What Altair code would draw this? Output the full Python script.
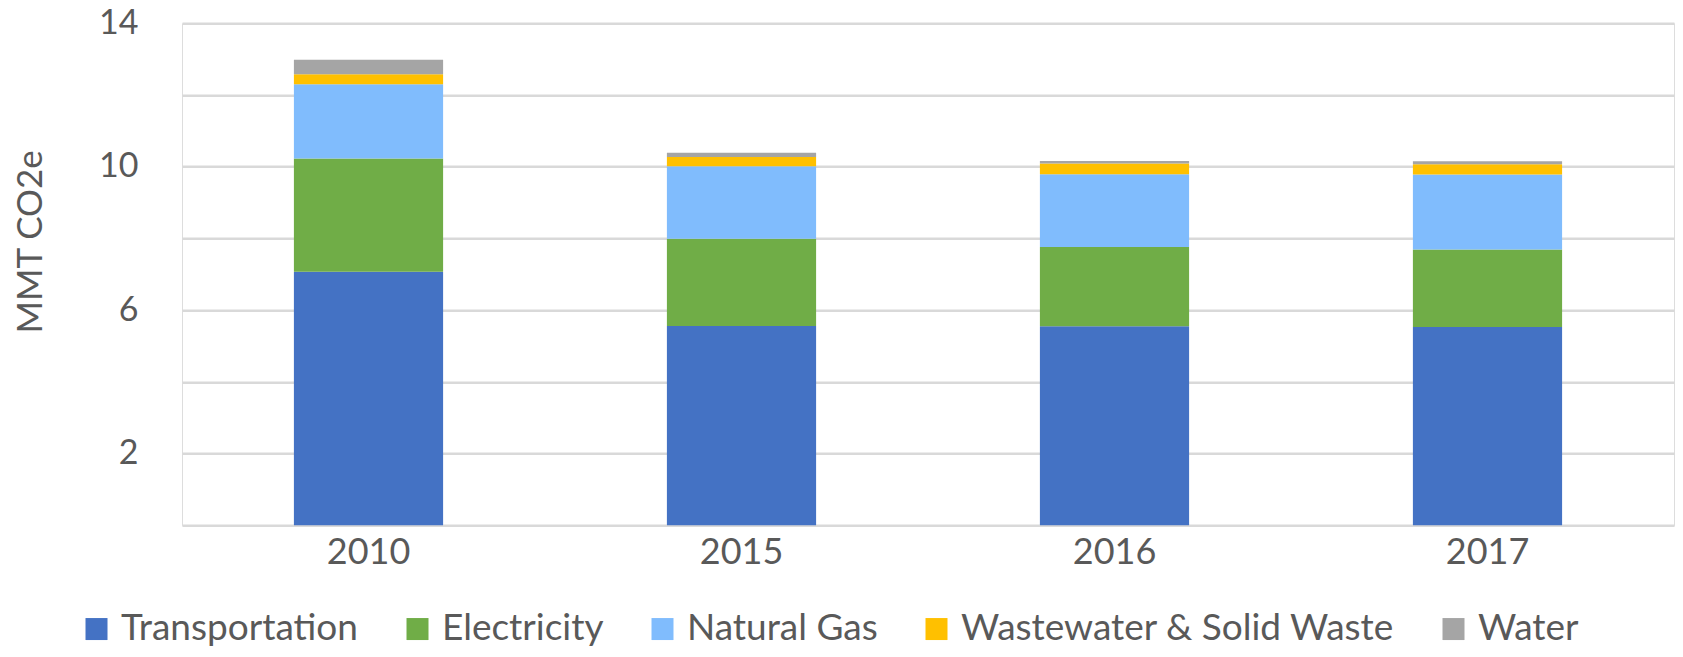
import altair as alt
import pandas as pd

years = ["2010", "2015", "2016", "2017"]
sectors = ["Transportation", "Electricity", "Natural Gas", "Wastewater & Solid Waste", "Water"]
colors = ["#4472C4", "#70AD47", "#80BCFD", "#FFC000", "#A5A5A5"]

transportation = [7.07, 5.56, 5.55, 5.53]
electricity = [3.16, 2.43, 2.21, 2.16]
natural_gas = [2.07, 2.02, 2.03, 2.09]
waste = [0.28, 0.26, 0.30, 0.29]
water = [0.40, 0.12, 0.07, 0.08]

series = [transportation, electricity, natural_gas, waste, water]
rows = []
for si, (name, vals) in enumerate(zip(sectors, series)):
    for y, v in zip(years, vals):
        rows.append({"Year": y, "Sector": name, "Value": v, "idx": si})
df = pd.DataFrame(rows)

FONT = "Lato"
GREY_TEXT = "#595959"
GRID = "#D9D9D9"

chart = alt.Chart(df).mark_bar().encode(
    x=alt.X("Year:N", sort=years,
            scale=alt.Scale(paddingInner=0.6, paddingOuter=0.3),
            axis=alt.Axis(title=None, labelAngle=0, domain=False, ticks=False,
                          labelFontSize=36, labelColor=GREY_TEXT, labelFont=FONT,
                          labelPadding=10)),
    y=alt.Y("Value:Q", stack="zero",
            scale=alt.Scale(domain=[0, 14], nice=False),
            axis=alt.Axis(title="MMT CO2e", values=[0, 2, 4, 6, 8, 10, 12, 14],
                          labelExpr="datum.value % 4 == 2 ? datum.label : ''",
                          domain=False, ticks=False, grid=True,
                          gridColor=GRID, gridWidth=2.5,
                          labelFontSize=34, labelColor=GREY_TEXT, labelFont=FONT,
                          labelPadding=44,
                          titleFontSize=35, titleColor=GREY_TEXT, titleFont=FONT,
                          titleFontWeight="normal", titlePadding=50, titleY=218)),
    color=alt.Color("Sector:N", sort=sectors,
                    scale=alt.Scale(domain=sectors, range=colors),
                    legend=alt.Legend(title=None, orient="none", direction="horizontal",
                                      legendX=-104, legendY=587,
                                      symbolType="square", symbolSize=484,
                                      symbolStrokeWidth=0, symbolOpacity=1,
                                      labelFontSize=37, labelFont=FONT,
                                      labelColor=GREY_TEXT, labelLimit=700,
                                      labelOffset=6, columnPadding=40)),
    order=alt.Order("idx:Q", sort="ascending"),
).properties(
    width=1492,
    height=502,
    autosize=alt.AutoSizeParams(type="none"),
    padding={"left": 174, "top": 15.3, "right": 1, "bottom": 123.5},
).configure_view(stroke=None).configure(background="white")

chart.save("out.html", embed_options={"renderer": "svg", "actions": False})
